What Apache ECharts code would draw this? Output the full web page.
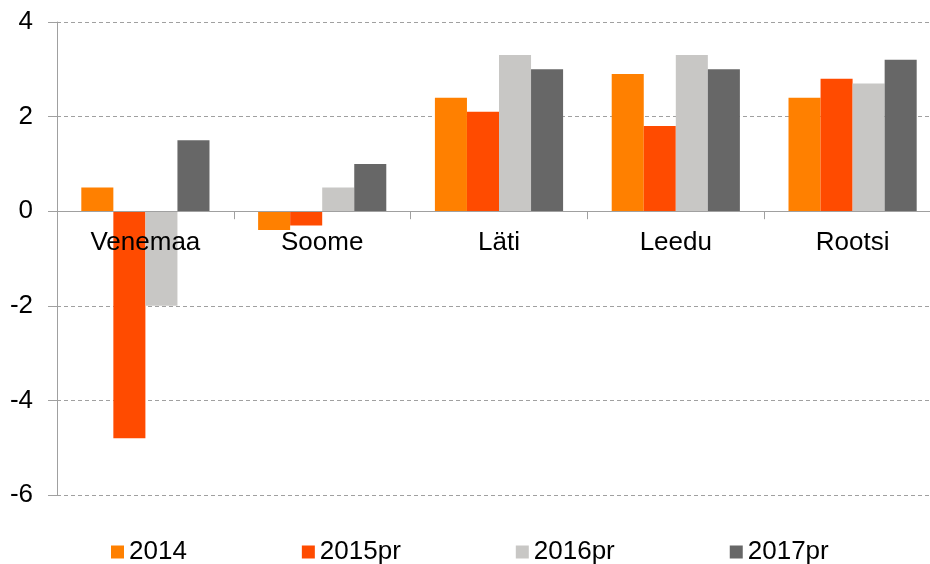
<!DOCTYPE html>
<html>
<head>
<meta charset="utf-8">
<script src="https://cdn.jsdelivr.net/npm/echarts@6/dist/echarts.min.js"></script>
<style>
  html, body { margin: 0; padding: 0; background: #fff; overflow: hidden; }
  #chart { width: 945px; height: 564px; }
</style>
</head>
<body>
<div id="chart"></div>
<script>
// categories and values
const countries = ["Venemaa", "Soome", "Läti", "Leedu", "Rootsi"];
const years = ["2014", "2015pr", "2016pr", "2017pr"];
const v2014 = [0.5, -0.4, 2.4, 2.9, 2.4];
const v2015pr = [-4.8, -0.3, 2.1, 1.8, 2.8];
const v2016pr = [-2.0, 0.5, 3.3, 3.3, 2.7];
const v2017pr = [1.5, 1.0, 3.0, 3.0, 3.2];
const yTicks = [-6, -4, -2, 0, 2, 4];

const colors = ["#ff8000", "#ff4b00", "#c8c7c5", "#676767"];
const values = [v2014, v2015pr, v2016pr, v2017pr];

const chart = echarts.init(document.getElementById("chart"));

const font = "Liberation Sans, Arial, sans-serif";
const yMin = yTicks[0];
const yMax = yTicks[yTicks.length - 1];

// plot area (the reference plot runs a little past the right edge of the picture)
const gridTop = 22;
const gridBottom = 69;
const plotH = 564 - gridTop - gridBottom;
// shift the category axis up so it sits on the zero line, labels under it
const zeroOffset = -plotH * (0 - yMin) / (yMax - yMin);

chart.setOption({
  animation: false,
  color: colors,
  grid: { left: 57, right: 4, top: gridTop, bottom: gridBottom, containLabel: false },
  legend: {
    left: 106,
    top: 534,
    itemWidth: 13,
    itemHeight: 13,
    itemGap: 115,
    icon: "rect",
    textStyle: { fontFamily: font, fontSize: 26, color: "#000" },
    data: years
  },
  xAxis: {
    type: "category",
    data: countries,
    position: "bottom",
    offset: zeroOffset,
    z: 5,
    axisLine: { onZero: false, lineStyle: { color: "#a0a0a0", width: 1 } },
    axisTick: { show: true, length: 8, lineStyle: { color: "#a0a0a0" } },
    axisLabel: { fontFamily: font, fontSize: 26, color: "#000", margin: 19 }
  },
  yAxis: {
    type: "value",
    min: yMin,
    max: yMax,
    interval: 2,
    axisLine: { show: true, lineStyle: { color: "#a0a0a0", width: 1 } },
    axisTick: { show: true, length: 9, lineStyle: { color: "#a0a0a0" } },
    axisLabel: { fontFamily: font, fontSize: 26, color: "#000", margin: 24 },
    splitLine: { lineStyle: { color: "#a0a0a0", type: [4, 3], width: 1 } }
  },
  series: years.map((y, i) => ({
    name: y,
    type: "bar",
    data: values[i],
    barGap: "0%",
    barCategoryGap: "27.5%",
    itemStyle: { color: colors[i] }
  }))
});
</script>
</body>
</html>
